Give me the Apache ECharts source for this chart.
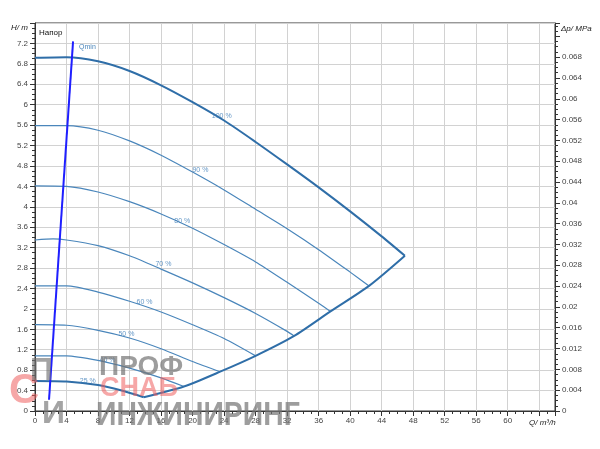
<!DOCTYPE html>
<html><head><meta charset="utf-8">
<script src="https://cdn.jsdelivr.net/npm/echarts@6/dist/echarts.min.js"></script>
<style>html,body{margin:0;padding:0;background:#fff}#c{width:600px;height:449px}</style>
</head><body><div id="c"></div>
<script>
// Q in m3/h, H in m
const curve100 = [[0,6.92],[4,6.93],[8,6.85],[12,6.66],[16,6.38],[20,6.05],[24,5.69],[28,5.27],[32,4.83],[36,4.38],[40,3.91],[44,3.42],[46.95,3.04]];
const curve90 = [[0,5.59],[4,5.59],[8,5.50],[12,5.29],[16,5.01],[20,4.68],[24,4.33],[28,3.95],[32,3.57],[36,3.16],[40,2.72],[42.4,2.45]];
const curve80 = [[0,4.41],[4,4.40],[8,4.29],[12,4.10],[16,3.86],[20,3.58],[24,3.26],[28,2.92],[32,2.52],[36,2.11],[37.5,1.95]];
const curve70 = [[0,3.35],[2.3,3.37],[4,3.35],[8,3.24],[12,3.04],[16,2.78],[20,2.51],[24,2.22],[28,1.91],[32,1.56],[32.9,1.47]];
const curve60 = [[0,2.45],[4,2.45],[8,2.33],[12,2.15],[16,1.94],[20,1.69],[24,1.42],[28,1.08]];
const curve50 = [[0,1.69],[4,1.68],[8,1.58],[12,1.43],[16,1.22],[20,0.97],[23.5,0.77]];
const curve40 = [[0,1.08],[4,1.08],[8,0.99],[12,0.84],[16,0.65],[18.9,0.48]];
const curve25 = [[0,0.59],[4,0.58],[8,0.51],[11,0.40],[13.8,0.27]];
const boundary = [[13.8,0.27],[18.9,0.48],[23.5,0.77],[28,1.08],[32.9,1.47],[37.5,1.95],[42.4,2.45],[46.95,3.04]];
const qmin = [[1.78,0.22],[4.83,7.24]];
const pctLabels = ['100 %','90 %','80 %','70 %','60 %','50 %','40 %','25 %'];
const pctLabelPos = [[23.7,5.78],[21.0,4.71],[18.7,3.73],[16.3,2.88],[13.9,2.14],[11.6,1.51],[9.2,1.0],[6.7,0.59]];
const hMax = 7.6, qMax = 66, mPerMPa = 0.00981;

const thin = '#4a86bb', thick = '#2f6ea8';
const font = 'Liberation Sans, Arial, sans-serif';
const chart = echarts.init(document.getElementById('c'));
function line(data, color, width){
  return {type:'line', data, smooth:0.25, showSymbol:false, symbol:'none', silent:true,
    lineStyle:{color, width}, z:3};
}
const axisLbl = {color:'#444', fontSize:8, fontFamily:font};
chart.setOption({
  animation:false,
  grid:{left:35, right:45, top:23, bottom:38, show:true, borderColor:'#333', borderWidth:1},
  xAxis:{type:'value', min:0, max:qMax, interval:4,
    axisLine:{lineStyle:{color:'#333'}}, axisTick:{length:5, lineStyle:{color:'#333'}},
    minorTick:{show:true, splitNumber:4, length:3, lineStyle:{color:'#333'}},
    splitLine:{lineStyle:{color:'#d2d2d2'}},
    axisLabel:Object.assign({margin:6, formatter:v=> (v%4===0 && v<=60) ? String(v) : ''}, axisLbl)},
  yAxis:[{type:'value', min:0, max:hMax, interval:0.4,
    axisLine:{show:true, lineStyle:{color:'#333'}}, axisTick:{show:true, length:5, lineStyle:{color:'#333'}},
    minorTick:{show:true, splitNumber:4, length:3, lineStyle:{color:'#333'}},
    splitLine:{lineStyle:{color:'#d2d2d2'}},
    axisLabel:Object.assign({margin:7, formatter:v=> v>7.3 ? '' : String(+v.toFixed(1))}, axisLbl)},
   {type:'value', position:'right', min:0, max:hMax*mPerMPa, interval:0.004,
    axisLine:{show:true, lineStyle:{color:'#333'}}, axisTick:{show:true, length:5, lineStyle:{color:'#333'}},
    minorTick:{show:true, splitNumber:4, length:3, lineStyle:{color:'#333'}},
    splitLine:{show:false},
    axisLabel:Object.assign({margin:7, formatter:v=> v>0.07 ? '' : String(+v.toFixed(3))}, axisLbl)}],
  series:[
    line(curve90, thin, 1.2), line(curve80, thin, 1.2), line(curve70, thin, 1.2),
    line(curve60, thin, 1.2), line(curve50, thin, 1.2), line(curve40, thin, 1.2),
    line(curve25, thick, 2), line(curve100, thick, 2), line(boundary, thick, 2),
    {type:'line', data:qmin, showSymbol:false, symbol:'none', lineStyle:{color:'#1f1fff', width:2}, z:4,
     endLabel:{show:true, formatter:'Qmin', color:'#4a86bb', fontSize:7, fontFamily:font, offset:[-2,6]}},
    {type:'scatter', symbolSize:0, z:5, silent:true,
     data:pctLabelPos.map((p,i)=>({value:p, name:pctLabels[i]})),
     label:{show:true, position:'inside', formatter:p=>p.name, color:'#3d7db8', fontSize:7, fontFamily:font}}
  ],
  graphic:[
    {type:'text', left:39, top:29, style:{text:'Напор', fill:'#111', font:'8px '+font}},
    {type:'text', left:11, top:24, style:{text:'H/ m', fill:'#222', font:'italic 8px '+font}},
    {type:'text', left:561, top:25, style:{text:'Δp/ MPa', fill:'#222', font:'italic 8px '+font}},
    {type:'text', left:529, top:419, style:{text:'Q/ m³/h', fill:'#222', font:'italic 8px '+font}},
    // watermark
    {type:'text', left:99, top:353, z:10, style:{text:'ПРОФ', fill:'rgba(115,115,115,0.7)', font:'bold 28px Liberation Sans'}},
    {type:'text', left:100, top:375, z:10, style:{text:'СНАБ', fill:'rgba(238,95,95,0.55)', font:'bold 27px Liberation Sans'}},
    {type:'text', left:96, top:399, z:10, scaleX:0.86, style:{text:'ИНЖИНИРИНГ', fill:'rgba(115,115,115,0.7)', font:'bold 33px Liberation Sans'}},
    {type:'text', left:9, top:370, z:10, style:{text:'С', fill:'rgba(238,95,95,0.55)', font:'bold 42px Liberation Sans'}},
    {type:'text', left:30, top:355, z:10, style:{text:'П', fill:'rgba(115,115,115,0.65)', font:'bold 32px Liberation Sans'}},
    {type:'text', left:42, top:398, z:10, style:{text:'И', fill:'rgba(115,115,115,0.65)', font:'bold 32px Liberation Sans'}}
  ]
});
</script></body></html>
